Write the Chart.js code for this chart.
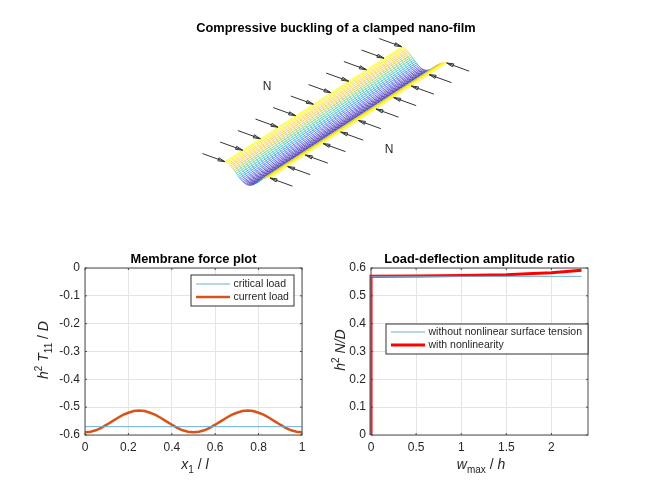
<!DOCTYPE html>
<html>
<head>
<meta charset="utf-8">
<script src="https://cdn.jsdelivr.net/npm/chart.js@4"></script>
<style>
  html, body { margin: 0; background: #fff; }
  canvas { position: absolute; }
</style>
</head>
<body>
<canvas id="film" width="650" height="230" style="left:0;top:0"></canvas>
<canvas id="force" width="325" height="253" style="left:0;top:235px"></canvas>
<canvas id="ratio" width="325" height="253" style="left:325px;top:235px"></canvas>
<script>
// film surface: position across the film, deflection there, stations along it
const acrossPos = [0, .025, .05, .075, .1, .125, .15, .175, .2, .225, .25, .275, .3, .325, .35, .375, .4, .425, .45, .475, .5,
  .525, .55, .575, .6, .625, .65, .675, .7, .725, .75, .775, .8, .825, .85, .875, .9, .925, .95, .975, 1];
const deflection = [0, .006, .024, .055, .095, .146, .206, .273, .345, .422, .5, .578, .655, .727, .794, .854, .905, .946, .976, .994, 1,
  .994, .976, .946, .905, .854, .794, .727, .655, .578, .5, .422, .345, .273, .206, .146, .095, .055, .024, .006, 0];
const alongPos = [0, .017, .033, .05, .067, .083, .1, .117, .133, .15, .167, .183, .2, .217, .233, .25, .267, .283, .3, .317,
  .333, .35, .367, .383, .4, .417, .433, .45, .467, .483, .5, .517, .533, .55, .567, .583, .6, .617, .633, .65,
  .667, .683, .7, .717, .733, .75, .767, .783, .8, .817, .833, .85, .867, .883, .9, .917, .933, .95, .967, .983, 1];
const arrowStations = [0, .1, .2, .3, .4, .5, .6, .7, .8, .9, 1];

// membrane force plot
const forceX = [0, .025, .05, .075, .1, .125, .15, .175, .2, .225, .25, .275, .3, .325, .35, .375, .4, .425, .45, .475, .5,
  .525, .55, .575, .6, .625, .65, .675, .7, .725, .75, .775, .8, .825, .85, .875, .9, .925, .95, .975, 1];
const currentLoad = [-.59, -.588, -.583, -.574, -.563, -.551, -.539, -.528, -.52, -.514, -.512, -.514, -.52, -.528, -.539, -.551, -.563, -.574, -.583, -.588, -.59,
  -.588, -.583, -.574, -.563, -.551, -.539, -.528, -.52, -.514, -.512, -.514, -.52, -.528, -.539, -.551, -.563, -.574, -.583, -.588, -.59];
const criticalX = [0, 1];
const criticalLoad = [-.57, -.57];

// load-deflection
const linearW = [0, 0, 2.333];
const linearN = [0, .57, .57];
const nonlinearW = [0, 0, .5, 1, 1.5, 1.8, 2, 2.2, 2.333];
const nonlinearN = [0, .57, .571, .573, .576, .58, .583, .588, .592];

const FONT = '"Liberation Sans", Arial, sans-serif';
const INK = '#262626';
const parula = [[62, 38, 168], [71, 82, 244], [30, 127, 224], [18, 177, 214], [55, 200, 151], [128, 201, 87], [232, 187, 61], [252, 199, 51], [249, 251, 21]];

function surfaceColor(w) {
  const pos = (1 - w) * (parula.length - 1);
  const i = Math.min(Math.floor(pos), parula.length - 2);
  const f = pos - i;
  const c = parula[i].map((v, k) => Math.round(v + (parula[i + 1][k] - v) * f));
  return `rgb(${c[0]},${c[1]},${c[2]})`;
}

// flat projection of the film, view units are pixels with the near left corner at 0,0
function project(along, across, w) {
  return { x: 176.7 * along + 45 * across, y: 115 * along - 16.3 * across - 15 * w };
}

function arrow(station, tailAcross, tipAcross) {
  const tail = project(station, tailAcross, 0);
  const tip = project(station, tipAcross, 0);
  const len = Math.hypot(tip.x - tail.x, tip.y - tail.y);
  const ux = (tip.x - tail.x) / len, uy = (tip.y - tail.y) / len;
  const back = { x: tip.x - ux * 7, y: tip.y - uy * 7 };
  const b1 = { x: back.x - uy * 1.6, y: back.y + ux * 1.6 };
  const b2 = { x: back.x + uy * 1.6, y: back.y - ux * 1.6 };
  return {
    data: [tail, tip, b1, b2, tip], showLine: true, pointRadius: 0,
    borderColor: '#333', borderWidth: 1, fill: false, tension: 0,
  };
}

const filmSets = [];
arrowStations.forEach(s => {
  filmSets.push(arrow(s, -.5, 0));
  filmSets.push(arrow(s, 1.5, 1));
});
// chart.js paints the first dataset last, so the near side goes first
for (let j = acrossPos.length - 1; j >= 0; j--) {
  filmSets.push({
    data: alongPos.map(a => project(a, acrossPos[j], deflection[j])),
    showLine: true, pointRadius: 0, borderWidth: .7, tension: 0,
    borderColor: surfaceColor(deflection[j]),
  });
}
alongPos.forEach(a => {
  filmSets.push({
    data: acrossPos.map((t, j) => project(a, t, deflection[j])),
    showLine: true, pointRadius: 0, borderWidth: .6, tension: 0,
    borderColor: surfaceColor(0),
    segment: { borderColor: ctx => surfaceColor(deflection[ctx.p0DataIndex]) },
  });
});

// text laid out run by run so sub and superscripts sit right
function drawRuns(ctx, runs, size) {
  const widthOf = r => {
    ctx.font = `${r.i ? 'italic ' : ''}${r.s ? Math.round(size * .72) : size}px ${FONT}`;
    return ctx.measureText(r.t).width;
  };
  const total = runs.reduce((sum, r) => sum + widthOf(r), 0);
  let x = -total / 2;
  ctx.textAlign = 'left';
  ctx.textBaseline = 'alphabetic';
  runs.forEach(r => {
    const w = widthOf(r);
    ctx.fillText(r.t, x, size * .35 + (r.s === 'up' ? -size * .42 : r.s === 'down' ? size * .3 : 0));
    x += w;
  });
}

const axesDecor = {
  id: 'axesDecor',
  afterDatasetsDraw(chart, args, opts) {
    const { ctx, chartArea: a, scales } = chart;
    ctx.save();
    ctx.strokeStyle = '#4d4d4d';
    ctx.lineWidth = 1;
    ctx.strokeRect(a.left, a.top, a.right - a.left, a.bottom - a.top);
    ctx.beginPath();
    scales.x.ticks.forEach((t, i) => {
      const x = scales.x.getPixelForTick(i);
      ctx.moveTo(x, a.bottom); ctx.lineTo(x, a.bottom - 2);
      ctx.moveTo(x, a.top); ctx.lineTo(x, a.top + 2);
    });
    scales.y.ticks.forEach((t, i) => {
      const y = scales.y.getPixelForTick(i);
      ctx.moveTo(a.left, y); ctx.lineTo(a.left + 2, y);
      ctx.moveTo(a.right, y); ctx.lineTo(a.right - 2, y);
    });
    ctx.stroke();

    // boxed legend inside the axes
    const b = opts.box;
    ctx.fillStyle = '#fff';
    ctx.fillRect(b.x, b.y, b.w, b.h);
    ctx.strokeStyle = '#333';
    ctx.lineWidth = 1;
    ctx.strokeRect(b.x, b.y, b.w, b.h);
    chart.data.datasets.forEach((d, i) => {
      const y = b.y + opts.rows[i];
      ctx.strokeStyle = d.borderColor;
      ctx.lineWidth = d.borderWidth;
      ctx.beginPath();
      ctx.moveTo(b.x + 5, y); ctx.lineTo(b.x + 39, y);
      ctx.stroke();
      ctx.fillStyle = INK;
      ctx.font = `10.5px ${FONT}`;
      ctx.textAlign = 'left';
      ctx.textBaseline = 'middle';
      ctx.fillText(d.label, b.x + 42.5, y);
    });

    // title and axis labels
    ctx.fillStyle = '#000';
    ctx.font = `bold 12.8px ${FONT}`;
    ctx.textAlign = 'center';
    ctx.textBaseline = 'middle';
    ctx.fillText(opts.title, (a.left + a.right) / 2, a.top - 9);
    ctx.fillStyle = INK;
    ctx.save();
    ctx.translate(opts.xLabelAt[0], opts.xLabelAt[1]);
    drawRuns(ctx, opts.xLabel, 14);
    ctx.restore();
    ctx.save();
    ctx.translate(opts.yLabelAt[0], opts.yLabelAt[1]);
    ctx.rotate(-Math.PI / 2);
    drawRuns(ctx, opts.yLabel, 14);
    ctx.restore();
    ctx.restore();
  },
};

const filmText = {
  id: 'filmText',
  afterDatasetsDraw(chart) {
    const { ctx, scales } = chart;
    ctx.save();
    ctx.textAlign = 'center';
    ctx.textBaseline = 'middle';
    ctx.fillStyle = '#000';
    ctx.font = `bold 12.8px ${FONT}`;
    ctx.fillText('Compressive buckling of a clamped nano-film', 336, 28);
    ctx.fillStyle = INK;
    ctx.font = `12px ${FONT}`;
    ctx.fillText('N', scales.x.getPixelForValue(42), scales.y.getPixelForValue(75));
    ctx.fillText('N', scales.x.getPixelForValue(164), scales.y.getPixelForValue(12));
    ctx.restore();
  },
};

new Chart(document.getElementById('film'), {
  type: 'scatter',
  data: { datasets: filmSets },
  plugins: [filmText],
  options: {
    responsive: false,
    animation: false,
    events: [],
    layout: { autoPadding: false },
    plugins: { legend: { display: false }, tooltip: { enabled: false } },
    scales: {
      x: { display: false, min: -225, max: 425 },
      y: { display: false, min: -68.3, max: 161.7 },
    },
  },
});

function plotOptions(xScale, yScale, padding, decor) {
  const base = {
    grid: { color: '#e4e4e4', drawTicks: false },
    border: { display: false },
  };
  const tick = { color: INK, font: { family: FONT, size: 12 }, maxRotation: 0, callback: v => String(Math.round(v * 10) / 10) };
  return {
    responsive: false,
    animation: false,
    events: [],
    layout: { autoPadding: false, padding },
    plugins: { legend: { display: false }, tooltip: { enabled: false }, axesDecor: decor },
    scales: {
      x: { type: 'linear', ...base, ...xScale, ticks: { ...tick, padding: 5, ...xScale.ticks }, afterFit: s => { s.height = 25; } },
      y: { type: 'linear', ...base, ...yScale, ticks: { ...tick, padding: 5, ...yScale.ticks }, afterFit: s => { s.width = 30; } },
    },
  };
}

const zip = (xs, ys) => xs.map((x, i) => ({ x, y: ys[i] }));

new Chart(document.getElementById('force'), {
  type: 'line',
  data: {
    datasets: [
      { label: 'critical load', data: zip(criticalX, criticalLoad), borderColor: '#6aaed6', borderWidth: 1, pointRadius: 0, clip: false },
      { label: 'current load', data: zip(forceX, currentLoad), borderColor: '#D95319', borderWidth: 2.5, pointRadius: 0, clip: false },
    ],
  },
  plugins: [axesDecor],
  options: plotOptions(
    { min: 0, max: 1, ticks: { stepSize: .2 } },
    { min: -.6, max: 0, ticks: { stepSize: .1 } },
    { left: 55, right: 23, top: 33, bottom: 28 },
    {
      title: 'Membrane force plot',
      box: { x: 191, y: 40, w: 103, h: 31 },
      rows: [9, 22],
      xLabel: [{ t: 'x', i: 1 }, { t: '1', s: 'down' }, { t: ' / ' }, { t: 'l', i: 1 }],
      xLabelAt: [195, 229],
      yLabel: [{ t: 'h', i: 1 }, { t: '2', s: 'up' }, { t: ' ' }, { t: 'T', i: 1 }, { t: '11', s: 'down' }, { t: ' / ' }, { t: 'D', i: 1 }],
      yLabelAt: [43, 115],
    },
  ),
});

new Chart(document.getElementById('ratio'), {
  type: 'line',
  data: {
    datasets: [
      { label: 'without nonlinear surface tension', data: zip(linearW, linearN), borderColor: '#6aaed6', borderWidth: 1, pointRadius: 0, clip: false },
      { label: 'with nonlinearity', data: zip(nonlinearW, nonlinearN), borderColor: '#FF0000', borderWidth: 3, pointRadius: 0, clip: false },
    ],
  },
  plugins: [axesDecor],
  options: plotOptions(
    { min: 0, max: 2.405, ticks: { stepSize: .5, includeBounds: false } },
    { min: 0, max: .6, ticks: { stepSize: .1 } },
    { left: 16, right: 62, top: 33, bottom: 28 },
    {
      title: 'Load-deflection amplitude ratio',
      box: { x: 61, y: 89, w: 202, h: 30 },
      rows: [8, 21],
      xLabel: [{ t: 'w', i: 1 }, { t: 'max', s: 'down' }, { t: ' / ' }, { t: 'h', i: 1 }],
      xLabelAt: [156, 229],
      yLabel: [{ t: 'h', i: 1 }, { t: '2', s: 'up' }, { t: ' ' }, { t: 'N/D', i: 1 }],
      yLabelAt: [15, 115],
    },
  ),
});
</script>
</body>
</html>
